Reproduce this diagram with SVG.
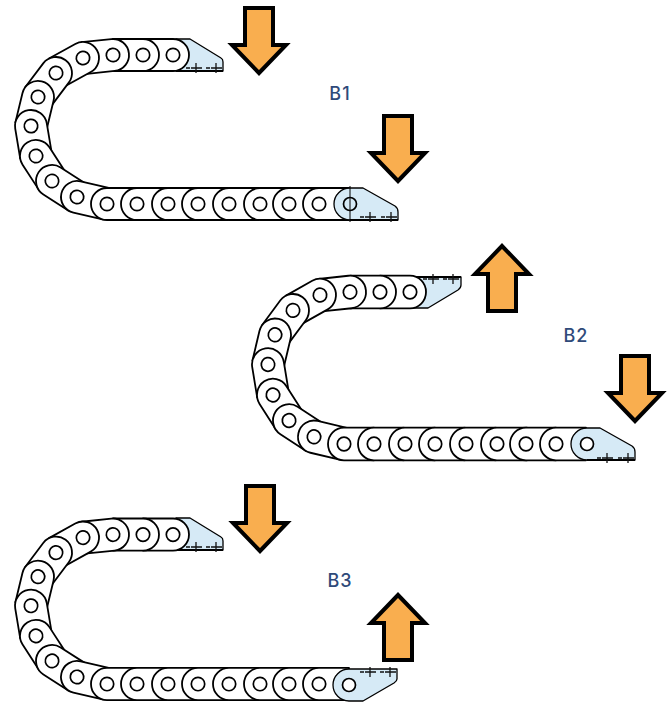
<svg xmlns="http://www.w3.org/2000/svg" xmlns:xlink="http://www.w3.org/1999/xlink" width="671" height="702" viewBox="0 0 671 702">
<style>
.link{fill:#fff;stroke:#000;stroke-width:1.8;stroke-linejoin:round}
.hole{fill:#fff;stroke:#000;stroke-width:1.7}
.tip{fill:#d6eaf6;stroke:#000;stroke-width:1.3;stroke-linejoin:round}
.base{fill:none;stroke:#000;stroke-width:1.8}
.bolt{fill:none;stroke:#111;stroke-width:1.3}
.arrow{fill:#f9ae4f;stroke:#000;stroke-width:4;stroke-miterlimit:6}
.label{font-family:"Inter","Liberation Sans",sans-serif;font-size:18px;font-weight:500;fill:#2f4a7a;text-anchor:middle;letter-spacing:1px}
</style>
<defs>
<g id="link"><path class="link" d="M0,-16A16,16 0 0 0 0,16L30,16L30,-16Z"/><circle class="hole" r="6.7"/></g>
<g id="bolt"><path class="bolt" d="M-10,0H-6M-5,0H6M0,-5V5"/></g>
<path id="arrow" class="arrow" d="M-14,0H14V37H27L0,65L-27,37H-14Z"/>
<g id="links">
<use href="#link" transform="translate(173,55) rotate(180)"/>
<use href="#link" transform="translate(143,55) rotate(180)"/>
<use href="#link" transform="translate(113,55) rotate(174)"/>
<use href="#link" transform="translate(83,58) rotate(151)"/>
<use href="#link" transform="translate(56,73) rotate(127)"/>
<use href="#link" transform="translate(38,97) rotate(103.6)"/>
<use href="#link" transform="translate(31,126) rotate(80.5)"/>
<use href="#link" transform="translate(36,156) rotate(57)"/>
<use href="#link" transform="translate(52,181) rotate(32.6)"/>
<use href="#link" transform="translate(77,197) rotate(13)"/>
<use href="#link" transform="translate(107,204)"/>
<use href="#link" transform="translate(137,204)"/>
<use href="#link" transform="translate(168,204)"/>
<use href="#link" transform="translate(198,204)"/>
<use href="#link" transform="translate(229,204)"/>
<use href="#link" transform="translate(260,204)"/>
<use href="#link" transform="translate(289,204)"/>
<use href="#link" transform="translate(319,204)"/>
</g>
</defs>

<g id="chain-b1">
<path class="tip" d="M176,71V39H190L221,58Q223,59 223,62V71Z"/>
<path class="base" d="M176,71H223"/>
<use href="#bolt" transform="translate(196,68)"/><use href="#bolt" transform="translate(216,68)"/>
<use href="#links"/>
<path class="tip" d="M350,188H363L395,206Q398,208 398,212V220H350A16,16 0 0 1 350,188Z"/>
<circle class="hole" cx="350" cy="204" r="6.5" style="fill:#d6eaf6"/>
<path class="base" d="M350,186V222" style="stroke-width:1"/>
<path class="base" d="M350,220H398"/>
<use href="#bolt" transform="translate(370,217)"/><use href="#bolt" transform="translate(391,217)"/>
</g>

<g id="chain-b2">
<path class="tip" d="M413,277H461V285Q461,288 458,290L428,308H413Z"/>
<path class="base" d="M413,277H461"/>
<use href="#bolt" transform="translate(433,279)"/><use href="#bolt" transform="translate(453,279)"/>
<use href="#links" transform="translate(237,235.9) scale(1,1.02)"/>
<path class="tip" d="M587,428H600L632,446Q635,448 635,452V460H587A16,16 0 0 1 587,428Z"/>
<circle class="hole" cx="587" cy="444" r="6.5"/>
<path class="base" d="M587,460H635"/>
<use href="#bolt" transform="translate(607,458)"/><use href="#bolt" transform="translate(628,458)"/>
</g>

<g id="chain-b3">
<path class="tip" d="M176,550V518H190L221,537Q223,538 223,541V550Z"/>
<path class="base" d="M176,550H223"/>
<use href="#bolt" transform="translate(196,547)"/><use href="#bolt" transform="translate(216,547)"/>
<use href="#links" transform="translate(0,479.4) scale(1,1.003)"/>
<path class="tip" d="M349,669H397V679Q397,681 394,683L363,701H349A16,16 0 0 1 349,669Z"/>
<circle class="hole" cx="349" cy="685" r="6.5"/>
<use href="#bolt" transform="translate(370,672)"/><use href="#bolt" transform="translate(390,672)"/>
</g>

<g id="arrows">
<use href="#arrow" transform="translate(259,8)"/>
<use href="#arrow" transform="translate(398,116)"/>
<use href="#arrow" transform="translate(502,311) scale(1,-1)"/>
<use href="#arrow" transform="translate(635,356)"/>
<use href="#arrow" transform="translate(260,486)"/>
<use href="#arrow" transform="translate(398,660) scale(1,-1)"/>
</g>

<g id="labels">
<text class="label" x="340" y="100">B1</text>
<text class="label" x="576" y="342">B2</text>
<text class="label" x="340" y="587">B3</text>
</g>
</svg>
